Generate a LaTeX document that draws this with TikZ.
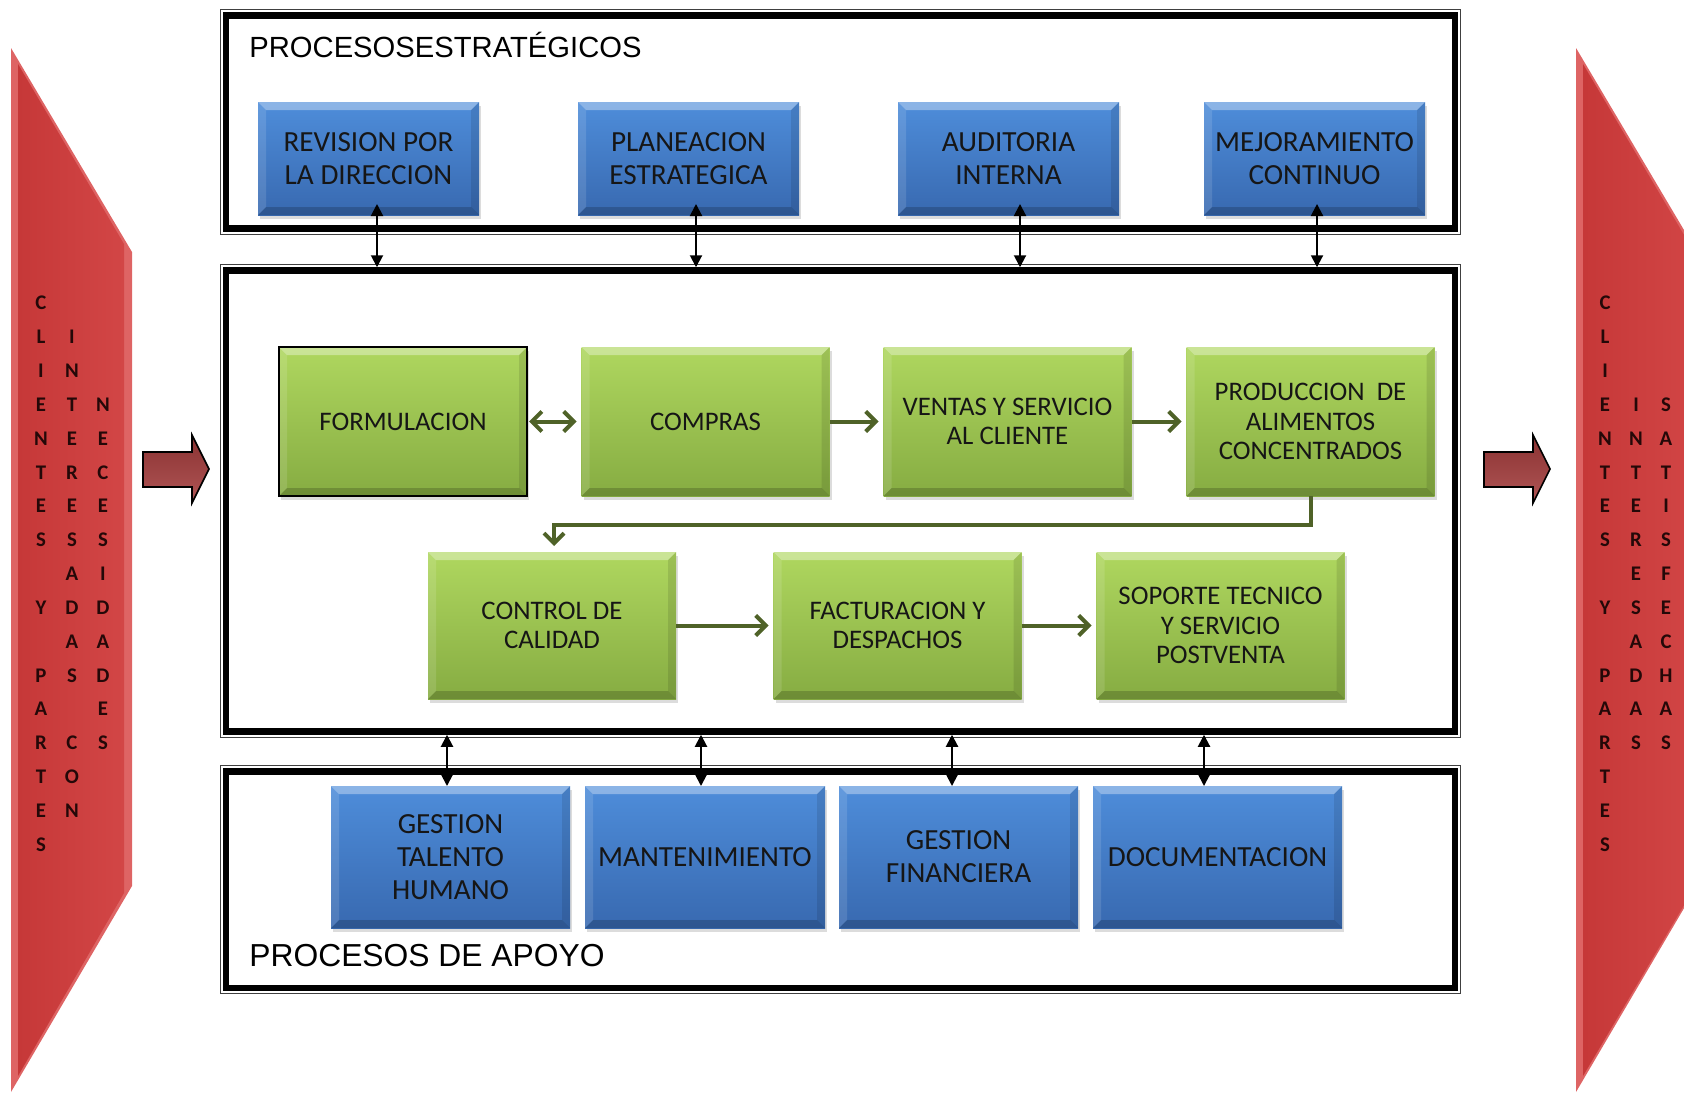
\documentclass[tikz,border=0pt]{standalone}
\usepackage{fontspec}
\setmainfont{Carlito}
\newfontfamily\headfont{Liberation Sans}
\usetikzlibrary{arrows.meta,calc,shadows}

\definecolor{bluetop}{HTML}{4E8DDA}
\definecolor{bluebot}{HTML}{3869B0}
\definecolor{greentop}{HTML}{AFD75F}
\definecolor{greenbot}{HTML}{86AC42}
\definecolor{flowgreen}{HTML}{4F6228}
\definecolor{redrim}{HTML}{DE6464}
\definecolor{redleft}{HTML}{C63838}
\definecolor{redright}{HTML}{D24646}
\definecolor{redtext}{HTML}{240808}
\definecolor{arrowtop}{HTML}{8A3232}
\definecolor{arrowbot}{HTML}{B05555}
\definecolor{boxtext}{HTML}{161616}

\tikzset{
  bevel/.style={path picture={
    \path (path picture bounding box.north west) coordinate (pNW)
          (path picture bounding box.south east) coordinate (pSE);
    \fill[white,opacity=.35] (pNW) -- (pNW -| pSE) -- ($(pNW -| pSE)+(-4pt,-4pt)$)
         -- ($(pNW)+(4pt,-4pt)$) -- cycle;
    \fill[white,opacity=.12] (pNW) -- ($(pNW)+(4pt,-4pt)$) -- ($(pNW |- pSE)+(4pt,4pt)$)
         -- (pNW |- pSE) -- cycle;
    \fill[black,opacity=.10] (pSE) -- (pNW -| pSE) -- ($(pNW -| pSE)+(-4pt,-4pt)$)
         -- ($(pSE)+(-4pt,4pt)$) -- cycle;
    \fill[black,opacity=.18] (pNW |- pSE) -- (pSE) -- ($(pSE)+(-4pt,4pt)$)
         -- ($(pNW |- pSE)+(4pt,4pt)$) -- cycle;
  }},
  boxbase/.style={rectangle, inner sep=0pt, outer sep=0pt, align=center, text=boxtext,
    bevel, drop shadow={shadow xshift=1.2pt, shadow yshift=-2pt, opacity=.28}},
  bluebox/.style={boxbase, top color=bluetop, bottom color=bluebot,
    font=\fontsize{14.6}{16.4}\selectfont},
  greenbox/.style={boxbase, top color=greentop, bottom color=greenbot,
    minimum width=124pt, font=\fontsize{13.4}{14.8}\selectfont},
  frame/.style={draw, line width=3.25pt, rectangle, inner sep=0pt, outer sep=1.625pt,
    minimum width=614.5pt},
  thinframe/.style={draw=black!75, line width=0.6pt},
  blk/.style={{Triangle[length=6pt,width=6pt]}-{Triangle[length=6pt,width=6pt]}, line width=1pt},
  flow/.style={draw=flowgreen, line width=2pt, -{Straight Barb[length=5pt,width=10pt]}},
  flowboth/.style={draw=flowgreen, line width=2pt,
    {Straight Barb[length=5pt,width=10pt]}-{Straight Barb[length=5pt,width=10pt]}},
  redletter/.style={text=redtext, inner sep=0pt, font=\fontsize{10.4}{12}\bfseries},
  header/.style={anchor=west, inner sep=0pt, font=\headfont},
  redarrow/.style={draw=black, line width=0.8pt, top color=arrowtop, bottom color=arrowbot},
}

\begin{document}
\begin{tikzpicture}[x=0.5pt, y=-0.5pt]
\useasboundingbox (0,0) rectangle (1684,1092);
\clip (0,0) rectangle (1684,1092);

% ---- side panels: stakeholders in and out ----
\fill[redrim] (11,48) -- (132,252) -- (132,886) -- (11,1092) -- cycle;
\shade[left color=redleft, right color=redright] (18,64) -- (124,244) -- (124,893) -- (18,1076) -- cycle;
\fill[redrim] (1576,48) -- (1697,252) -- (1697,886) -- (1576,1092) -- cycle;
\shade[left color=redleft, right color=redright] (1583,64) -- (1700,262) -- (1700,878) -- (1583,1076) -- cycle;

\foreach \ch [count=\i from 0] in {C,L,I,E,N,T,E,S,,Y,,P,A,R,T,E,S}
  \node[redletter] (la-\i) at (41,303+\i*33.85) {\ch};
\foreach \ch [count=\i from 1] in {I,N,T,E,R,E,S,A,D,A,S,,C,O,N}
  \node[redletter] (lb-\i) at (72,303+\i*33.85) {\ch};
\foreach \ch [count=\i from 3] in {N,E,C,E,S,I,D,A,D,E,S}
  \node[redletter] (lc-\i) at (103,303+\i*33.85) {\ch};

\foreach \ch [count=\i from 0] in {C,L,I,E,N,T,E,S,,Y,,P,A,R,T,E,S}
  \node[redletter] (ra-\i) at (1605,303+\i*33.85) {\ch};
\foreach \ch [count=\i from 3] in {I,N,T,E,R,E,S,A,D,A,S}
  \node[redletter] (rb-\i) at (1636,303+\i*33.85) {\ch};
\foreach \ch [count=\i from 3] in {S,A,T,I,S,F,E,C,H,A,S}
  \node[redletter] (rc-\i) at (1666,303+\i*33.85) {\ch};

% ---- input / output arrows ----
\path[redarrow] (143,452) -- (192,452) -- (192,435) -- (209,469) -- (192,503) -- (192,487) -- (143,487) -- cycle;
\path[redarrow] (1484,452) -- (1533,452) -- (1533,435) -- (1550,469) -- (1533,503) -- (1533,487) -- (1484,487) -- cycle;

% ---- process frames ----
\node[frame, minimum height=106.5pt] (topframe) at (840.5,122) {};
\node[frame, minimum height=230.5pt] (midframe) at (840.5,501) {};
\node[frame, minimum height=108.25pt] (botframe) at (840.5,879.75) {};
\foreach \f in {topframe,midframe,botframe}
  \draw[thinframe] ($(\f.north west)+(-2.5,-2.5)$) rectangle ($(\f.south east)+(2.5,2.5)$);

\node[header, font=\headfont\fontsize{14.6}{16}\selectfont] (titletop) at (249,45) {PROCESOSESTRATÉGICOS};
\node[header, font=\headfont\fontsize{15.9}{18}\selectfont] (titlebot) at (249,956) {PROCESOS DE APOYO};

% ---- strategic processes ----
\node[bluebox, minimum width=110.5pt, minimum height=56.5pt] (s1) at (368.5,158.5) {REVISION POR\\LA DIRECCION};
\node[bluebox, minimum width=110.5pt, minimum height=56.5pt] (s2) at (688.5,158.5) {PLANEACION\\ESTRATEGICA};
\node[bluebox, minimum width=110.5pt, minimum height=56.5pt] (s3) at (1008.5,158.5) {AUDITORIA\\INTERNA};
\node[bluebox, minimum width=110.5pt, minimum height=56.5pt] (s4) at (1314.5,158.5) {MEJORAMIENTO\\CONTINUO};

% ---- core processes ----
\node[greenbox, minimum height=74.5pt, draw=black, line width=1.3pt] (f1) at (403,421.5) {FORMULACION};
\node[greenbox, minimum height=74.5pt] (f2) at (705.5,421.5) {COMPRAS};
\node[greenbox, minimum height=74.5pt] (f3) at (1007.5,421.5) {VENTAS Y SERVICIO\\AL CLIENTE};
\node[greenbox, minimum height=74.5pt] (f4) at (1310.5,421.5) {PRODUCCION\ \ DE\\ALIMENTOS\\CONCENTRADOS};
\node[greenbox, minimum height=73.5pt] (f5) at (552,625.5) {CONTROL DE\\CALIDAD};
\node[greenbox, minimum height=73.5pt] (f6) at (897.5,625.5) {FACTURACION Y\\DESPACHOS};
\node[greenbox, minimum height=73.5pt] (f7) at (1220.5,625.5) {SOPORTE TECNICO\\Y SERVICIO\\POSTVENTA};

% ---- support processes ----
\node[bluebox, minimum width=119.5pt, minimum height=71pt] (g1) at (450.5,857) {GESTION\\TALENTO\\HUMANO};
\node[bluebox, minimum width=120pt, minimum height=71pt] (g2) at (705,857) {MANTENIMIENTO};
\node[bluebox, minimum width=119.5pt, minimum height=71pt] (g3) at (958.5,857) {GESTION\\FINANCIERA};
\node[bluebox, minimum width=124.5pt, minimum height=71pt] (g4) at (1217.5,857) {DOCUMENTACION};

% ---- links between strategic and core processes ----
\draw[blk] ([shift={(8.5,-11)}]s1.south) -- ([shift={(8.5,0)}]s1.south |- midframe.north);
\draw[blk] ([shift={(7.5,-11)}]s2.south) -- ([shift={(7.5,0)}]s2.south |- midframe.north);
\draw[blk] ([shift={(11.5,-11)}]s3.south) -- ([shift={(11.5,0)}]s3.south |- midframe.north);
\draw[blk] ([shift={(2.5,-11)}]s4.south) -- ([shift={(2.5,0)}]s4.south |- midframe.north);

% ---- links between core and support processes ----
\draw[blk] ([shift={(-3.5,0)}]g1.north |- midframe.south) -- ([shift={(-3.5,0)}]g1.north);
\draw[blk] ([shift={(-4,0)}]g2.north |- midframe.south) -- ([shift={(-4,0)}]g2.north);
\draw[blk] ([shift={(-6.5,0)}]g3.north |- midframe.south) -- ([shift={(-6.5,0)}]g3.north);
\draw[blk] ([shift={(-13.5,0)}]g4.north |- midframe.south) -- ([shift={(-13.5,0)}]g4.north);

% ---- core process flow ----
\draw[flowboth, shorten <=1pt, shorten >=2.5pt] (f1.east) -- (f2.west);
\draw[flow, shorten >=2.5pt] (f2.east) -- (f3.west);
\draw[flow, shorten >=2.5pt] (f3.east) -- (f4.west);
\draw[flow, shorten >=3pt] (f4.south) -- ++(0,29) -| ([shift={(2,0)}]f5.north);
\draw[flow, shorten >=2.5pt] (f5.east) -- (f6.west);
\draw[flow, shorten >=2.5pt] (f6.east) -- (f7.west);
\end{tikzpicture}
\end{document}
